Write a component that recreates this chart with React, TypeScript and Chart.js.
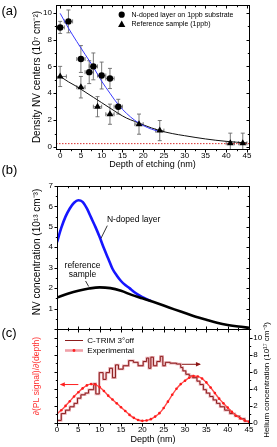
import React, { useEffect, useRef } from "react";
import { Chart, registerables } from "chart.js";

Chart.register(...registerables);

const FONT = "'Liberation Sans', Arial, Helvetica, sans-serif";
const W = 277;
const H = 447;

// ---------------- Panel (a) data ----------------
const dopedDepth = [0, 2, 5, 7, 8, 10, 12, 14];
const dopedDensity = [8.9, 9.35, 6.55, 5.57, 6.0, 5.32, 5.1, 3.0];
const dopedDensityErr = [0.45, 0.85, 1.0, 0.85, 1.0, 1.0, 0.75, 0.55];
const dopedDepthErr = [1, 1, 1, 1, 1, 1, 1, 1];

const refDepth = [0, 5, 9, 12, 19, 24, 41, 44];
const refDensity = [5.25, 4.45, 3.0, 2.44, 1.7, 1.22, 0.28, 0.28];
const refDensityErr = [0.75, 0.8, 0.75, 0.75, 0.75, 0.75, 0.75, 0.75];
const refDepthErr = [1.5, 1, 1, 1, 1, 1, 1, 1];

const dopedFitDepth = [0, 2, 4, 6, 8, 10, 12, 14, 16, 18, 20, 22, 24];
const dopedFitDensity = [9.95, 8.85, 7.85, 6.9, 5.95, 4.9, 4.0, 3.15, 2.5, 1.98, 1.6, 1.33, 1.14];

const refFitDepth = [0, 2, 4, 6, 8, 10, 12, 14, 16, 18, 20, 22, 24, 27, 30, 35, 40, 45];
const refFitDensity = [5.25, 4.85, 4.5, 4.1, 3.7, 3.3, 2.9, 2.5, 2.15, 1.9, 1.65, 1.42, 1.22, 1.0, 0.84, 0.6, 0.42, 0.3];

const backgroundDepth = [-1, 45.5];
const backgroundDensity = [0.25, 0.25];

const aXTicks = [0, 5, 10, 15, 20, 25, 30, 35, 40, 45];
const aYTicks = [0, 2, 4, 6, 8, 10];

// ---------------- Panel (b) data ----------------
const dopedProfileDepth = [0, 1, 2, 3, 4, 5, 6, 7, 8, 9, 10, 11, 12, 13, 14, 15, 16, 17, 18, 19, 20, 21, 22];
const dopedProfileConc = [4.25, 4.95, 5.5, 5.9, 6.18, 6.3, 6.22, 5.9, 5.45, 5.0, 4.5, 3.95, 3.45, 2.95, 2.62, 2.35, 2.15, 2.0, 1.82, 1.68, 1.56, 1.46, 1.37];

const refProfileDepth = [0, 2.5, 5, 7.5, 10, 12.5, 15, 17.5, 20, 22.5, 25, 27.5, 30, 32.5, 35, 37.5, 40, 42.5, 45];
const refProfileConc = [1.54, 1.72, 1.87, 1.98, 2.04, 2.0, 1.87, 1.67, 1.5, 1.33, 1.15, 0.96, 0.78, 0.6, 0.45, 0.31, 0.2, 0.12, 0.06];

const bYTicks = [1, 2, 3, 4, 5, 6, 7];

// ---------------- Panel (c) data ----------------
const heliumDepth = [0, 1, 2, 3, 4, 4.8, 5.6, 6.6, 7.4, 8.6, 9.1, 9.9, 10.8, 11.5, 12.3, 13, 13.7, 14.4, 15.5, 16.8, 17.9, 19, 20.2, 21, 21.5, 22, 22.6, 23.4, 24.2, 24.8, 25.4, 26.5, 28, 29, 29.5, 30.2, 31, 31.8, 32.8, 33.5, 34.3, 35, 35.8, 36.6, 37.4, 38.2, 39.3, 40.5, 41.7, 42.8, 44, 45];
const heliumConc = [0.3, 1.1, 1.5, 1.9, 2.3, 2.9, 3.3, 3.5, 3.9, 4.6, 3.4, 5.9, 5.1, 5.9, 6.4, 5.3, 6.8, 6.3, 6.7, 7.3, 7.1, 6.7, 7.2, 7.6, 6.4, 7.7, 6.7, 7.2, 7.8, 6.7, 7.1, 7.0, 6.9, 6.5, 6.1, 5.7, 5.5, 5.3, 4.9, 4.5, 3.9, 3.5, 3.1, 2.7, 2.3, 1.9, 1.5, 1.1, 0.8, 0.5, 0.2, 0.2];

const derivDepth = [0, 1, 2, 3, 4, 5, 6, 7, 8, 9, 10, 11, 12, 13, 14, 15, 16, 17, 18, 19, 20, 21, 22, 23, 24, 25, 26, 27, 28, 29, 30, 31, 32, 33, 34, 35, 36, 37, 38, 39, 40, 41, 42, 43, 44, 45];
const derivSignal = [1.1, 1.5, 2.0, 2.55, 3.1, 3.6, 4.05, 4.4, 4.55, 4.5, 4.2, 3.75, 3.2, 2.75, 2.3, 1.85, 1.4, 0.95, 0.6, 0.35, 0.25, 0.3, 0.45, 0.75, 1.15, 1.75, 2.5, 3.3, 4.0, 4.55, 4.95, 5.3, 5.5, 5.45, 5.2, 4.75, 4.15, 3.5, 2.85, 2.3, 1.8, 1.3, 0.85, 0.55, 0.3, 0.15];

const cXTicks = [0, 5, 10, 15, 20, 25, 30, 35, 40, 45];
const cYTicks = [0, 2, 4, 6, 8, 10];

// ---------------- helpers ----------------
const pts = (xs: number[], ys: number[]) => xs.map((x, i) => ({ x, y: ys[i] }));
const tickFont = { family: FONT, size: 8 };

type Side = "top" | "bottom" | "left" | "right";
type TickSpec = { scale: string; side: Side; dir: "in" | "out"; major: number; minor: number };

function drawFrame(chart: any, specs: TickSpec[]) {
  const { ctx, chartArea: a } = chart;
  ctx.save();
  ctx.strokeStyle = "#000";
  ctx.lineWidth = 1;
  ctx.strokeRect(Math.round(a.left) + 0.5, Math.round(a.top) + 0.5, Math.round(a.right - a.left), Math.round(a.bottom - a.top));
  for (const s of specs) {
    const sc = chart.scales[s.scale];
    const start = Math.ceil((sc.min - 1e-9) / s.minor) * s.minor;
    for (let v = start; v <= sc.max + 1e-9; v += s.minor) {
      const r = v / s.major;
      const isMajor = Math.abs(r - Math.round(r)) < 1e-6;
      const len = isMajor ? 3 : 1.7;
      const p = Math.round(sc.getPixelForValue(v)) + 0.5;
      const sign = s.dir === "out" ? 1 : -1;
      ctx.beginPath();
      if (s.side === "bottom") {
        const y = Math.round(a.bottom) + 0.5;
        ctx.moveTo(p, y);
        ctx.lineTo(p, y + sign * len);
      } else if (s.side === "top") {
        const y = Math.round(a.top) + 0.5;
        ctx.moveTo(p, y);
        ctx.lineTo(p, y - sign * len);
      } else if (s.side === "left") {
        const x = Math.round(a.left) + 0.5;
        ctx.moveTo(x, p);
        ctx.lineTo(x - sign * len, p);
      } else {
        const x = Math.round(a.right) + 0.5;
        ctx.moveTo(x, p);
        ctx.lineTo(x + sign * len, p);
      }
      ctx.stroke();
    }
  }
  ctx.restore();
}

function txt(ctx: any, s: string, x: number, y: number, size: number, color = "#000", align: CanvasTextAlign = "left", rot = 0) {
  ctx.save();
  ctx.font = `${size}px ${FONT}`;
  ctx.fillStyle = color;
  ctx.textAlign = align;
  ctx.textBaseline = "middle";
  ctx.translate(x, y);
  if (rot) ctx.rotate(rot);
  ctx.fillText(s, 0, 0);
  ctx.restore();
}

function drawTriangle(ctx: any, cx: number, cy: number, r: number) {
  ctx.beginPath();
  ctx.moveTo(cx, cy - r);
  ctx.lineTo(cx - r * 0.95, cy + r * 0.7);
  ctx.lineTo(cx + r * 0.95, cy + r * 0.7);
  ctx.closePath();
  ctx.fill();
}

function baseOptions() {
  return {
    animation: false,
    responsive: false,
    devicePixelRatio: 1,
    events: [],
    plugins: { legend: { display: false }, tooltip: { enabled: false } },
  };
}

function fixWidth(w: number) {
  return (s: any) => {
    s.width = w;
    s.paddingTop = 0;
    s.paddingBottom = 0;
    s.paddingLeft = 0;
    s.paddingRight = 0;
  };
}
function fixHeight(h: number) {
  return (s: any) => {
    s.height = h;
    s.paddingTop = 0;
    s.paddingBottom = 0;
    s.paddingLeft = 0;
    s.paddingRight = 0;
  };
}
const setTicks = (vals: number[]) => (s: any) => {
  s.ticks = vals.map((v) => ({ value: v }));
};

// ---------------- Panel (a) ----------------
function configA(): any {
  const plugin = {
    id: "panelA",
    beforeDatasetsDraw(chart: any) {
      const { ctx, chartArea: a, scales } = chart;
      const x = scales.x;
      const y = scales.y;
      ctx.save();
      ctx.beginPath();
      ctx.rect(a.left, a.top, a.right - a.left, a.bottom - a.top);
      ctx.clip();
      ctx.strokeStyle = "#6a6a6a";
      ctx.lineWidth = 0.9;
      const groups: [number[], number[], number[], number[]][] = [
        [dopedDepth, dopedDensity, dopedDepthErr, dopedDensityErr],
        [refDepth, refDensity, refDepthErr, refDensityErr],
      ];
      for (const [xs, ys, exs, eys] of groups) {
        xs.forEach((d, i) => {
          const px = x.getPixelForValue(d);
          const py = y.getPixelForValue(ys[i]);
          const y0 = y.getPixelForValue(ys[i] - eys[i]);
          const y1 = y.getPixelForValue(ys[i] + eys[i]);
          const x0 = x.getPixelForValue(d - exs[i]);
          const x1 = x.getPixelForValue(d + exs[i]);
          ctx.beginPath();
          ctx.moveTo(px, y0);
          ctx.lineTo(px, y1);
          ctx.moveTo(px - 2, y0);
          ctx.lineTo(px + 2, y0);
          ctx.moveTo(px - 2, y1);
          ctx.lineTo(px + 2, y1);
          ctx.moveTo(x0, py);
          ctx.lineTo(x1, py);
          ctx.moveTo(x0, py - 2);
          ctx.lineTo(x0, py + 2);
          ctx.moveTo(x1, py - 2);
          ctx.lineTo(x1, py + 2);
          ctx.stroke();
        });
      }
      ctx.restore();
    },
    afterDraw(chart: any) {
      const ctx = chart.ctx;
      drawFrame(chart, [
        { scale: "x", side: "bottom", dir: "out", major: 5, minor: 2.5 },
        { scale: "x", side: "top", dir: "in", major: 5, minor: 2.5 },
        { scale: "y", side: "left", dir: "out", major: 2, minor: 1 },
        { scale: "y", side: "right", dir: "in", major: 2, minor: 1 },
      ]);
      txt(ctx, "(a)", 1.5, 11, 13);
      ctx.save();
      ctx.fillStyle = "#000";
      ctx.beginPath();
      ctx.arc(121.7, 14.7, 3.1, 0, Math.PI * 2);
      ctx.fill();
      drawTriangle(ctx, 121.7, 24.3, 3.8);
      ctx.restore();
      txt(ctx, "N-doped layer on 1ppb substrate", 131.5, 14.9, 7);
      txt(ctx, "Reference sample (1ppb)", 131.5, 24.2, 7);
    },
  };
  return {
    type: "scatter",
    data: {
      datasets: [
        {
          label: "N-doped layer on 1ppb substrate",
          data: pts(dopedDepth, dopedDensity),
          pointStyle: "circle",
          pointRadius: 3.2,
          backgroundColor: "#000",
          borderColor: "#000",
          borderWidth: 0,
        },
        {
          label: "Reference sample (1ppb)",
          data: pts(refDepth, refDensity),
          pointStyle: "triangle",
          pointRadius: 4,
          backgroundColor: "#000",
          borderColor: "#000",
          borderWidth: 0,
        },
        {
          label: "N-doped fit",
          data: pts(dopedFitDepth, dopedFitDensity),
          showLine: true,
          pointRadius: 0,
          borderColor: "#3a3aff",
          borderWidth: 1,
          cubicInterpolationMode: "monotone",
        },
        {
          label: "Reference fit",
          data: pts(refFitDepth, refFitDensity),
          showLine: true,
          pointRadius: 0,
          borderColor: "#111",
          borderWidth: 1,
          cubicInterpolationMode: "monotone",
        },
        {
          label: "Background",
          data: pts(backgroundDepth, backgroundDensity),
          showLine: true,
          pointRadius: 0,
          borderColor: "#d83030",
          borderWidth: 1,
          borderDash: [1.5, 1.5],
        },
      ],
    },
    options: {
      ...baseOptions(),
      layout: { padding: { left: 0, right: W - 249, top: 5, bottom: H - 149 - 22 } },
      scales: {
        x: {
          type: "linear",
          position: "bottom",
          min: -1,
          max: 45.5,
          afterBuildTicks: setTicks(aXTicks),
          afterFit: fixHeight(22),
          grid: { display: false, drawTicks: false },
          border: { display: false },
          ticks: { font: tickFont, color: "#000", padding: 1.7, autoSkip: false, maxRotation: 0 },
          title: {
            display: true,
            text: "Depth of etching (nm)",
            font: { family: FONT, size: 9 },
            color: "#000",
            padding: { top: 0, bottom: 0.6 },
          },
        },
        y: {
          type: "linear",
          position: "left",
          min: -0.15,
          max: 10.57,
          afterBuildTicks: setTicks(aYTicks),
          afterFit: fixWidth(56),
          grid: { display: false, drawTicks: false },
          border: { display: false },
          ticks: { font: tickFont, color: "#000", padding: 4, autoSkip: false },
          title: {
            display: true,
            text: "Density NV centers (10\u2077 cm\u207B\u00B2)",
            font: { family: FONT, size: 10 },
            color: "#000",
            padding: { top: 31.5, bottom: 0 },
          },
        },
      },
    },
    plugins: [plugin],
  };
}

// ---------------- Panel (b) ----------------
function configB(): any {
  const plugin = {
    id: "panelB",
    afterDraw(chart: any) {
      const ctx = chart.ctx;
      const x = chart.scales.x;
      const y = chart.scales.y;
      drawFrame(chart, [
        { scale: "x", side: "bottom", dir: "in", major: 5, minor: 2.5 },
        { scale: "x", side: "top", dir: "in", major: 5, minor: 2.5 },
        { scale: "y", side: "left", dir: "out", major: 1, minor: 0.5 },
        { scale: "y", side: "right", dir: "in", major: 1, minor: 0.5 },
      ]);
      txt(ctx, "(b)", 1.5, 170.5, 13);
      // annotations
      txt(ctx, "N-doped layer", x.getPixelForValue(11.7), y.getPixelForValue(5.36), 8.5);
      txt(ctx, "reference", x.getPixelForValue(5.98), y.getPixelForValue(3.09), 8.5, "#000", "center");
      txt(ctx, "sample", x.getPixelForValue(5.98), y.getPixelForValue(2.64), 8.5, "#000", "center");
      ctx.save();
      ctx.strokeStyle = "#000";
      ctx.lineWidth = 0.8;
      ctx.beginPath();
      ctx.moveTo(x.getPixelForValue(11.79), y.getPixelForValue(5.06));
      ctx.lineTo(x.getPixelForValue(10.31), y.getPixelForValue(4.44));
      ctx.moveTo(x.getPixelForValue(6.7), y.getPixelForValue(2.35));
      ctx.lineTo(x.getPixelForValue(7.43), y.getPixelForValue(2.08));
      ctx.stroke();
      ctx.restore();
    },
  };
  return {
    type: "scatter",
    data: {
      datasets: [
        {
          label: "reference sample",
          data: pts(refProfileDepth, refProfileConc),
          showLine: true,
          pointRadius: 0,
          borderColor: "#000",
          borderWidth: 2.6,
          cubicInterpolationMode: "monotone",
        },
        {
          label: "N-doped layer",
          data: pts(dopedProfileDepth, dopedProfileConc),
          showLine: true,
          pointRadius: 0,
          borderColor: "#1616ff",
          borderWidth: 2.6,
          cubicInterpolationMode: "monotone",
        },
      ],
    },
    options: {
      ...baseOptions(),
      layout: { padding: { left: 0, right: W - 249, top: 186, bottom: H - 329 } },
      scales: {
        x: { type: "linear", min: 0, max: 45, display: false },
        y: {
          type: "linear",
          position: "left",
          min: 0,
          max: 7,
          afterBuildTicks: setTicks(bYTicks),
          afterFit: fixWidth(57),
          grid: { display: false, drawTicks: false },
          border: { display: false },
          ticks: { font: tickFont, color: "#000", padding: 4, autoSkip: false },
          title: {
            display: true,
            text: "\u00A0\u00A0\u00A0\u00A0NV concentration (10\u00B9\u00B3 cm\u207B\u00B3)",
            font: { family: FONT, size: 10 },
            color: "#000",
            padding: { top: 31.5, bottom: 0 },
          },
        },
      },
    },
    plugins: [plugin],
  };
}

// ---------------- Panel (c) ----------------
function configC(): any {
  const arrow = (ctx: any, x0: number, x1: number, y: number, color: string) => {
    ctx.save();
    ctx.strokeStyle = color;
    ctx.fillStyle = color;
    ctx.lineWidth = 1;
    ctx.beginPath();
    ctx.moveTo(x0, y);
    ctx.lineTo(x1, y);
    ctx.stroke();
    const d = x1 > x0 ? 1 : -1;
    ctx.beginPath();
    ctx.moveTo(x1 + d * 1, y);
    ctx.lineTo(x1 - d * 4, y - 2.2);
    ctx.lineTo(x1 - d * 4, y + 2.2);
    ctx.closePath();
    ctx.fill();
    ctx.restore();
  };
  const plugin = {
    id: "panelC",
    afterDraw(chart: any) {
      const ctx = chart.ctx;
      const x = chart.scales.x;
      const y = chart.scales.yR;
      drawFrame(chart, [
        { scale: "x", side: "bottom", dir: "out", major: 5, minor: 2.5 },
        { scale: "x", side: "top", dir: "in", major: 5, minor: 2.5 },
        { scale: "yL", side: "left", dir: "out", major: 2, minor: 1 },
        { scale: "yR", side: "right", dir: "out", major: 2, minor: 1 },
      ]);
      txt(ctx, "(c)", 1.5, 333, 13);
      arrow(ctx, x.getPixelForValue(5), x.getPixelForValue(0.9), y.getPixelForValue(4.5), "#ff2020");
      arrow(ctx, x.getPixelForValue(29.3), x.getPixelForValue(33.5), y.getPixelForValue(6.87), "#8b1414");
      // legend
      ctx.save();
      ctx.lineWidth = 1;
      ctx.strokeStyle = "#8b1c1c";
      ctx.beginPath();
      ctx.moveTo(65, 340.5);
      ctx.lineTo(83, 340.5);
      ctx.stroke();
      ctx.lineWidth = 2.6;
      ctx.strokeStyle = "#f0a0a8";
      ctx.beginPath();
      ctx.moveTo(65, 350.5);
      ctx.lineTo(83, 350.5);
      ctx.stroke();
      ctx.fillStyle = "#ff2020";
      ctx.beginPath();
      ctx.arc(74, 350.5, 1.4, 0, Math.PI * 2);
      ctx.fill();
      ctx.restore();
      txt(ctx, "C-TRIM 3\u00B0off", 87.3, 340.5, 8);
      txt(ctx, "Experimental", 87.3, 350.5, 8);
      txt(ctx, "Helium concentration (10\u00B9\u2077 cm\u207B\u00B3)", 266.5, 380, 8, "#000", "center", -Math.PI / 2);
    },
  };
  return {
    type: "scatter",
    data: {
      datasets: [
        {
          label: "Experimental",
          data: pts(derivDepth, derivSignal),
          yAxisID: "yL",
          showLine: true,
          pointRadius: 1.3,
          pointBackgroundColor: "#ff1a1a",
          pointBorderWidth: 0,
          borderColor: "#ff4a4a",
          borderWidth: 1.4,
          cubicInterpolationMode: "monotone",
        },
        {
          label: "C-TRIM 3\u00B0off",
          data: pts(heliumDepth, heliumConc),
          yAxisID: "yR",
          showLine: true,
          stepped: "before",
          pointRadius: 0,
          borderColor: "#8b1c1c",
          borderWidth: 1,
        },
        {
          label: "C-TRIM shade",
          data: pts(heliumDepth, heliumConc),
          yAxisID: "yR",
          showLine: true,
          stepped: "before",
          pointRadius: 0,
          borderColor: "#eab0b6",
          borderWidth: 2.4,
        },
      ],
    },
    options: {
      ...baseOptions(),
      layout: { padding: { left: 0, right: 0, top: 329, bottom: 0 } },
      scales: {
        x: {
          type: "linear",
          position: "bottom",
          min: 0,
          max: 45,
          afterBuildTicks: setTicks(cXTicks),
          afterFit: fixHeight(H - 423),
          grid: { display: false, drawTicks: false },
          border: { display: false },
          ticks: { font: tickFont, color: "#000", padding: 2.2, autoSkip: false, maxRotation: 0 },
          title: {
            display: true,
            text: "Depth (nm)",
            font: { family: FONT, size: 9 },
            color: "#000",
            padding: { top: 0, bottom: 1.6 },
          },
        },
        yL: {
          type: "linear",
          position: "left",
          min: 0,
          max: 11,
          afterFit: fixWidth(57),
          grid: { display: false, drawTicks: false },
          border: { display: false },
          ticks: { display: false },
          title: {
            display: true,
            text: "\u2202(PL signal)/\u2202(depth)",
            font: { family: FONT, size: 8.5 },
            color: "#ff3030",
            padding: { top: 31.6, bottom: 0 },
          },
        },
        yR: {
          type: "linear",
          position: "right",
          min: 0,
          max: 11,
          afterBuildTicks: setTicks(cYTicks),
          afterFit: fixWidth(W - 249),
          grid: { display: false, drawTicks: false },
          border: { display: false },
          ticks: { font: tickFont, color: "#000", padding: 4.3, autoSkip: false },
        },
      },
    },
    plugins: [plugin],
  };
}

export default function App() {
  const ra = useRef<HTMLCanvasElement>(null);
  const rb = useRef<HTMLCanvasElement>(null);
  const rc = useRef<HTMLCanvasElement>(null);
  useEffect(() => {
    const charts = [
      new Chart(ra.current as HTMLCanvasElement, configA()),
      new Chart(rb.current as HTMLCanvasElement, configB()),
      new Chart(rc.current as HTMLCanvasElement, configC()),
    ];
    return () => charts.forEach((c) => c.destroy());
  }, []);
  const cs: React.CSSProperties = { position: "absolute", left: 0, top: 0 };
  return (
    <div style={{ position: "absolute", left: 0, top: 0, width: W, height: H, background: "#fff" }}>
      <canvas ref={ra} width={W} height={H} style={cs} />
      <canvas ref={rb} width={W} height={H} style={cs} />
      <canvas ref={rc} width={W} height={H} style={cs} />
    </div>
  );
}
